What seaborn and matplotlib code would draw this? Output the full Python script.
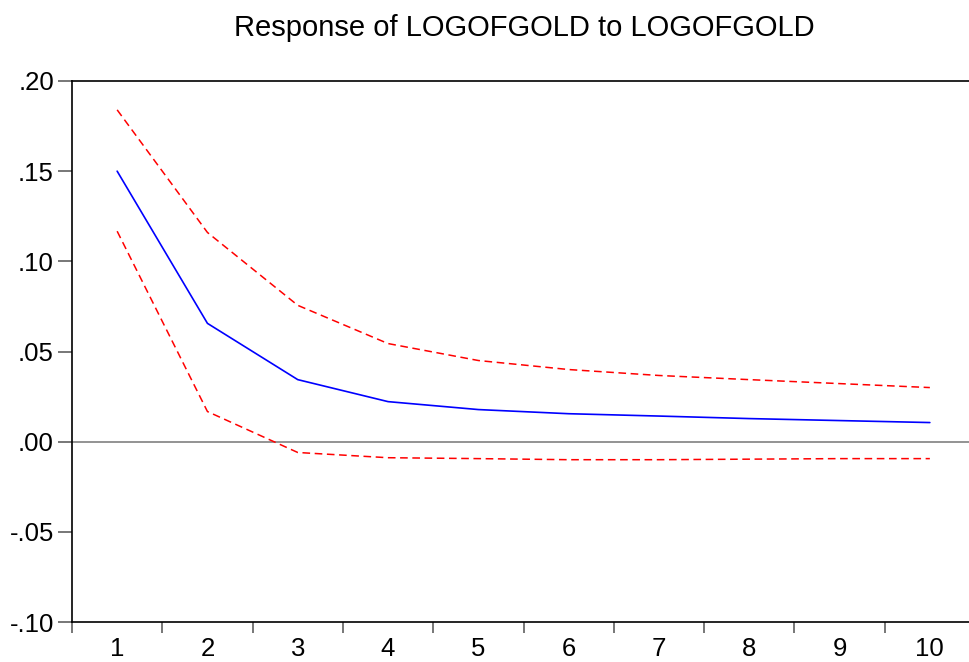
import numpy as np
import pandas as pd
import seaborn as sns
import matplotlib.pyplot as plt
from matplotlib.ticker import FixedLocator, NullFormatter

sns.set_style("white")
plt.rcParams["font.family"] = ["Liberation Sans", "DejaVu Sans"]
plt.rcParams["text.color"] = "black"
plt.rcParams["xtick.labelcolor"] = "black"
plt.rcParams["ytick.labelcolor"] = "black"

# Impulse response values
periods = [1, 2, 3, 4, 5, 6, 7, 8, 9, 10]
response = [0.150, 0.0656, 0.0344, 0.0222, 0.0178, 0.0155, 0.0142, 0.0128, 0.0117, 0.0106]
upper_band = [0.184, 0.116, 0.0756, 0.0544, 0.0450, 0.0400, 0.0367, 0.0344, 0.0322, 0.0300]
lower_band = [0.1167, 0.0167, -0.0060, -0.0089, -0.0094, -0.0100, -0.0100, -0.0097, -0.0094, -0.0094]
y_ticks = [-0.10, -0.05, 0.00, 0.05, 0.10, 0.15, 0.20]
y_labels = ["-.10", "-.05", ".00", ".05", ".10", ".15", ".20"]

df = pd.DataFrame({"period": periods, "response": response,
                   "upper": upper_band, "lower": lower_band})

fig = plt.figure(figsize=(9.69, 6.62), dpi=100)
ax = fig.add_axes([72 / 969, 40 / 662, 903 / 969, 541 / 662])

ax.axhline(0, color="#808080", lw=1.2, zorder=1)
sns.lineplot(data=df, x="period", y="response", ax=ax, color="blue", lw=1.2)
sns.lineplot(data=df, x="period", y="upper", ax=ax, color="red", lw=1.1,
             linestyle=(0, (5, 3)))
sns.lineplot(data=df, x="period", y="lower", ax=ax, color="red", lw=1.1,
             linestyle=(0, (5, 3)))

ax.set_xlim(0.5, 10.5)
ax.set_ylim(-0.10, 0.20)
ax.set_yticks(y_ticks)
ax.set_yticklabels(y_labels, fontsize=18.5)

# category boundaries carry the tick marks, labels sit in the middle
ax.xaxis.set_major_locator(FixedLocator(np.arange(0.5, 11, 1.0)))
ax.xaxis.set_major_formatter(NullFormatter())
ax.xaxis.set_minor_locator(FixedLocator(periods))
ax.set_xticklabels([str(p) for p in periods], minor=True, fontsize=18.5)
ax.tick_params(axis="x", which="major", direction="out", length=8, width=1.2,
               color="#606060", bottom=True)
ax.tick_params(axis="x", which="minor", length=0, pad=11, bottom=True)
ax.tick_params(axis="y", direction="out", length=10, width=1.2, color="#606060",
               left=True, pad=3)

ax.set_xlabel("")
ax.set_ylabel("")
for s in ax.spines.values():
    s.set_color("black")
    s.set_linewidth(1.2)

fig.text(524 / 969, 1 - 28 / 662, "Response of LOGOFGOLD to LOGOFGOLD",
         ha="center", va="center", fontsize=21)

fig.savefig("out.png", dpi=100)
